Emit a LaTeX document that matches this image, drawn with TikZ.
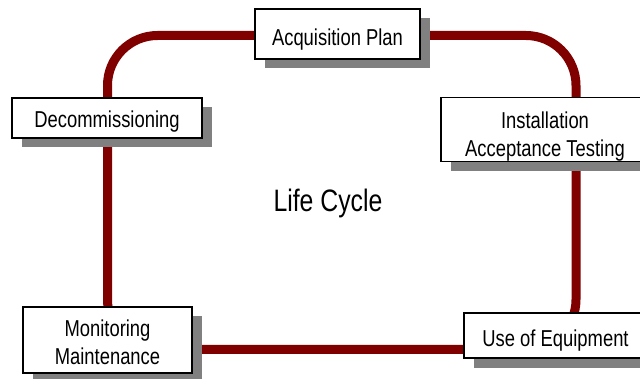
\documentclass[tikz,border=0pt]{standalone}
\usepackage{fontspec}
\setmainfont{Liberation Sans}[FakeStretch=0.8]
\usetikzlibrary{shadows}
\definecolor{loopred}{HTML}{800000}
\definecolor{shadowgray}{HTML}{808080}
\begin{document}
\begin{tikzpicture}[x=1pt,y=-1pt,
  loopline/.style={draw=loopred,line width=9pt,rounded corners=50pt},
  stagebox/.style={draw=black,line width=1.6pt,fill=white,inner sep=0pt,
    align=center,font=\fontsize{23}{28}\selectfont,text depth=0pt,
    general shadow={fill=shadowgray,shadow xshift=9.5pt,shadow yshift=-9.5pt}},
  centertext/.style={font=\fontsize{31}{36}\selectfont}]
\useasboundingbox (0,0) rectangle (640,379);
\fill[white] (0,0) rectangle (640,379);
\coordinate (tl) at (107.5,35.5);
\coordinate (br) at (576,349.5);
\draw[loopline] (tl) rectangle (br);
\node[stagebox,text height=23pt,minimum width=165pt,minimum height=50pt] (acq) at (337.5,34) {Acquisition Plan};
\node[stagebox,text height=20pt,minimum width=190pt,minimum height=40pt] (dec) at (107,118) {Decommissioning};
\node[stagebox,text height=55pt,minimum width=208pt,minimum height=64pt] (inst) at (545,129.5) {Installation\\Acceptance Testing};
\node[stagebox,text height=22pt,minimum width=183pt,minimum height=45pt] (use) at (555.5,335.5) {Use of Equipment};
\node[stagebox,text height=48pt,minimum width=169pt,minimum height=66pt] (mon) at (107.5,340) {Monitoring\\Maintenance};
\node[centertext] (life) at (328,203) {Life Cycle};
\end{tikzpicture}
\end{document}
